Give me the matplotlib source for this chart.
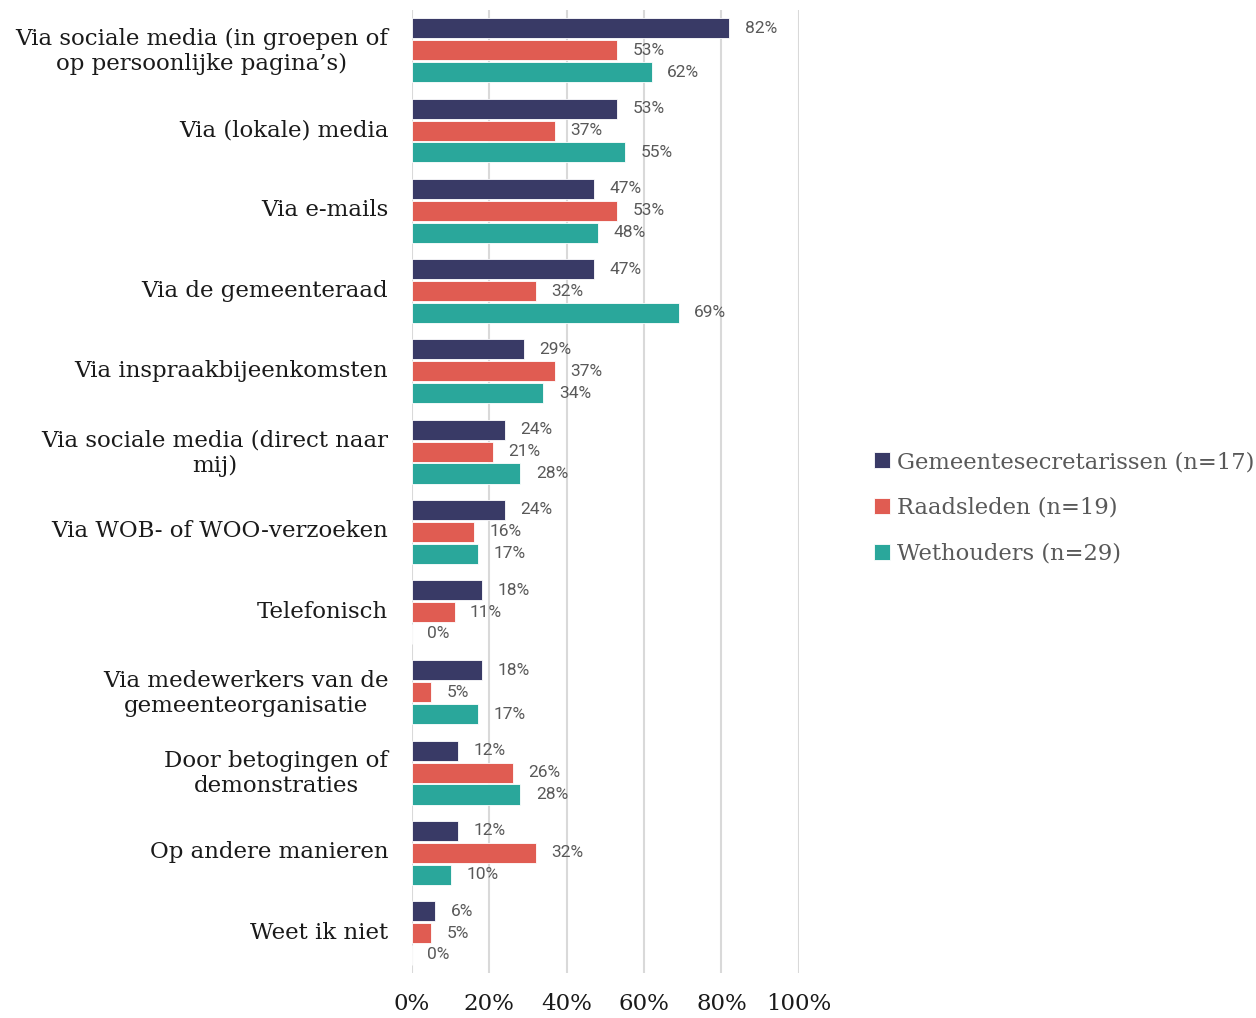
import numpy as np
import matplotlib
matplotlib.use("Agg")
import matplotlib.pyplot as plt
import matplotlib.transforms as mtransforms

categories = [
    "Via sociale media (in groepen of\nop persoonlijke pagina\u2019s)",
    "Via (lokale) media",
    "Via e-mails",
    "Via de gemeenteraad",
    "Via inspraakbijeenkomsten",
    "Via sociale media (direct naar\nmij)",
    "Via WOB- of WOO-verzoeken",
    "Telefonisch",
    "Via medewerkers van de\ngemeenteorganisatie",
    "Door betogingen of\ndemonstraties",
    "Op andere manieren",
    "Weet ik niet",
]
gemeentesecretarissen = [82, 53, 47, 47, 29, 24, 24, 18, 18, 12, 12, 6]
raadsleden = [53, 37, 53, 32, 37, 21, 16, 11, 5, 26, 32, 5]
wethouders = [62, 55, 48, 69, 34, 28, 17, 0, 17, 28, 10, 0]

series = [
    ("Gemeentesecretarissen (n=17)", gemeentesecretarissen, "#393a66"),
    ("Raadsleden (n=19)", raadsleden, "#e05c52"),
    ("Wethouders (n=29)", wethouders, "#2aa79b"),
]
xticks = [0, 20, 40, 60, 80, 100]
xticklabels = ["0%", "20%", "40%", "60%", "80%", "100%"]

serif = ["DejaVu Serif"]
sans = ["Roboto", "DejaVu Sans"]

fig = plt.figure(figsize=(12.56, 10.18), dpi=100)
ax = fig.add_axes([0.328, 0.044, 0.308, 0.946])

y = np.arange(len(categories))
step = 0.273
for i, (name, vals, col) in enumerate(series):
    pos = y + (i - 1) * step
    ax.barh(pos, vals, height=0.25, color=col, edgecolor="white", linewidth=0.6,
            label=name, zorder=3)
    for p, v in zip(pos, vals):
        ax.text(v + 4, p, f"{v}%", va="center", ha="left", fontsize=12.5,
                color="#595959", family=sans, zorder=4)

ax.set_xlim(0, 100)
ax.set_ylim(len(categories) - 0.5, -0.5)
ax.set_yticks(y)
ax.set_yticklabels(categories, family=serif, fontsize=16.5, color="#1a1a1a",
                   multialignment="center")
ax.set_xticks(xticks)
ax.set_xticklabels(xticklabels, family=serif, fontsize=16.5, color="#1a1a1a")
ax.tick_params(axis="both", length=0)
ax.tick_params(axis="x", pad=14)
ax.tick_params(axis="y", pad=17)
ax.grid(axis="x", color="#d9d9d9", linewidth=1.5, zorder=0)
for s in ax.spines.values():
    s.set_visible(False)

# nudge category labels up a little
shift = mtransforms.ScaledTranslation(0, 3 / 100, fig.dpi_scale_trans)
for lbl in ax.get_yticklabels():
    lbl.set_transform(lbl.get_transform() + shift)

leg = fig.legend(loc="center left", bbox_to_anchor=(0.68, 0.501), frameon=False,
                 prop={"family": serif, "size": 16.3}, handlelength=0.7,
                 handleheight=0.7, handletextpad=0.3, labelspacing=1.05)
for t in leg.get_texts():
    t.set_color("#595959")

fig.savefig("out.png", dpi=100)
